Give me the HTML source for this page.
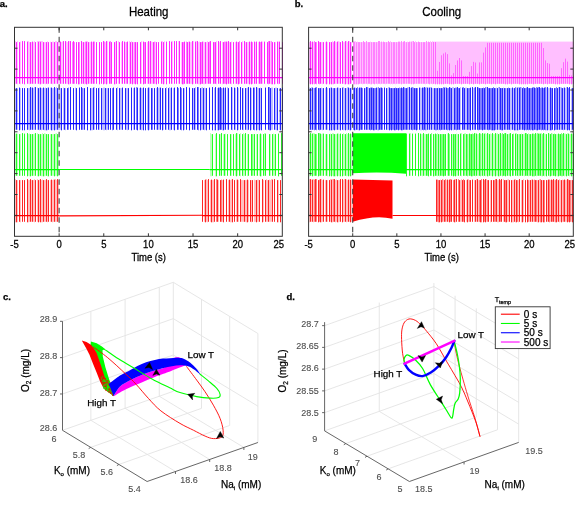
<!DOCTYPE html>
<html><head><meta charset="utf-8"><style>
html,body{margin:0;padding:0;background:#fff;width:575px;height:508px;overflow:hidden}
svg{display:block;will-change:transform}
text{font-family:"Liberation Sans", sans-serif;stroke-width:0.25px}
</style></head><body>
<svg width="575" height="508" viewBox="0 0 575 508">
<rect width="575" height="508" fill="#fff"/>
<path d="M15.5 41.1V83.8M17.5 41.1V84.3M20.5 41.6V84.3M28.5 41.1V83.8M29.5 42.1V84.3M31.5 42.1V83.8M33.5 42.1V83.8M34.5 41.1V83.8M37.5 41.1V83.8M39.5 41.1V84.3M41.5 41.1V83.8M42.5 41.1V83.8M44.5 42.1V83.8M45.5 42.1V84.3M47.5 41.1V84.3M50.5 41.6V83.8M52.5 41.6V84.3M53.5 41.6V83.8M55.5 41.1V83.8M56.5 41.1V83.8M58.5 41.1V83.8" stroke="#ffbfff" stroke-width="1" fill="none"/>
<path d="M16.5 42.1V83.8M19.5 42.1V83.8M22.5 41.1V83.8M24.5 41.1V84.3M27.5 41.6V83.8M30.5 42.1V83.8M32.5 41.6V83.8M35.5 42.1V83.8M38.5 41.6V83.8M40.5 41.6V84.3M43.5 42.1V83.8M46.5 42.1V83.8M48.5 42.1V83.8M51.5 42.1V83.8M54.5 42.1V83.8M57.5 42.1V83.8" stroke="#ff26ff" stroke-width="1" fill="none"/>
<path d="M15.5 88.1V129.8M17.5 88.1V129.8M20.5 88.1V129.8M28.5 88.1V129.8M29.5 88.1V130.3M31.5 87.6V129.8M33.5 88.1V129.8M34.5 87.1V129.8M37.5 87.6V129.8M39.5 87.6V130.3M41.5 88.1V130.3M42.5 88.1V129.8M44.5 88.1V130.3M45.5 87.6V130.3M47.5 87.6V130.3M50.5 87.6V129.8M52.5 88.1V130.3M53.5 88.1V129.8M55.5 88.1V129.8M56.5 87.1V129.8M58.5 87.6V129.8" stroke="#bfbfff" stroke-width="1" fill="none"/>
<path d="M16.5 88.1V129.8M19.5 87.6V130.3M22.5 88.1V130.3M24.5 88.1V130.3M27.5 88.1V129.8M30.5 87.1V129.8M32.5 87.6V129.8M35.5 87.1V129.8M38.5 88.1V129.8M40.5 87.6V129.8M43.5 87.6V129.8M46.5 88.1V130.3M48.5 87.6V129.8M51.5 87.6V130.3M54.5 87.1V130.3M57.5 88.1V129.8" stroke="#2626ff" stroke-width="1" fill="none"/>
<path d="M15.5 133.6V175.8M17.5 133.6V175.8M20.5 134.1V175.8M28.5 134.1V175.8M29.5 133.6V176.3M31.5 134.1V175.8M33.5 134.1V175.8M34.5 133.6V175.8M37.5 133.1V176.3M39.5 134.1V175.8M41.5 134.1V176.3M42.5 133.1V176.3M44.5 133.1V176.3M45.5 133.6V175.8M47.5 134.1V176.3M50.5 134.1V175.8M52.5 134.1V175.8M53.5 134.1V175.8M55.5 133.6V175.8M56.5 133.1V175.8M58.5 133.6V175.8" stroke="#bfffbf" stroke-width="1" fill="none"/>
<path d="M16.5 133.6V175.8M19.5 134.1V175.8M22.5 133.1V175.8M24.5 133.6V175.8M27.5 133.1V176.3M30.5 134.1V176.3M32.5 134.1V175.8M35.5 133.1V175.8M38.5 134.1V176.3M40.5 134.1V175.8M43.5 134.1V176.3M46.5 134.1V175.8M48.5 134.1V176.3M51.5 134.1V175.8M54.5 134.1V176.3M57.5 134.1V176.3" stroke="#26ff26" stroke-width="1" fill="none"/>
<path d="M15.5 179.1V222.3M17.5 180.1V222.3M20.5 180.1V222.3M28.5 180.1V222.3M29.5 180.1V221.8M31.5 180.1V221.8M33.5 180.1V221.8M34.5 179.1V222.3M37.5 179.1V221.8M39.5 179.6V221.8M41.5 180.1V222.3M42.5 179.6V222.3M44.5 180.1V221.8M45.5 180.1V221.8M47.5 180.1V222.3M50.5 180.1V221.8M52.5 180.1V222.3M53.5 179.6V221.8M55.5 179.1V221.8M56.5 180.1V221.8M58.5 180.1V221.8" stroke="#ffbfbf" stroke-width="1" fill="none"/>
<path d="M16.5 180.1V222.3M19.5 180.1V221.8M22.5 180.1V221.8M24.5 180.1V221.8M27.5 179.1V222.3M30.5 179.1V221.8M32.5 180.1V221.8M35.5 180.1V221.8M38.5 180.1V222.3M40.5 179.1V222.3M43.5 180.1V221.8M46.5 179.1V221.8M48.5 180.1V221.8M51.5 179.6V221.8M54.5 179.6V221.8M57.5 179.1V221.8" stroke="#ff2626" stroke-width="1" fill="none"/>
<path d="M59.5 41.1V83.8M61.5 42.1V83.8M62.5 41.6V83.8M66.5 41.6V83.8M67.5 42.1V83.8M69.5 41.1V84.3M82.5 42.1V83.8M84.5 42.1V84.3M87.5 41.1V84.3M89.5 42.1V83.8M90.5 42.1V83.8M92.5 42.1V83.8M105.5 42.1V83.8M107.5 41.1V83.8M115.5 41.6V84.3M118.5 41.1V83.8M121.5 42.1V83.8M125.5 42.1V83.8M129.5 41.1V84.3M131.5 41.1V83.8M133.5 42.1V83.8M136.5 42.1V83.8M141.5 41.1V83.8M147.5 42.1V83.8M149.5 41.6V84.3M151.5 41.6V83.8M152.5 42.1V83.8M155.5 41.6V83.8M162.5 41.1V83.8M164.5 41.1V83.8M172.5 41.1V83.8M178.5 41.1V83.8M181.5 42.1V83.8M188.5 41.6V83.8M190.5 42.1V83.8M191.5 42.1V83.8M193.5 41.1V83.8M196.5 41.1V83.8M198.5 42.1V84.3M199.5 41.6V84.3M203.5 41.6V84.3M204.5 42.1V84.3M206.5 42.1V83.8M207.5 41.1V83.8M216.5 41.1V84.3M219.5 42.1V83.8M222.5 42.1V84.3M227.5 41.6V83.8M229.5 42.1V83.8M231.5 41.6V84.3M235.5 42.1V83.8M237.5 42.1V84.3M242.5 41.1V83.8M245.5 42.1V83.8M247.5 42.1V83.8M248.5 42.1V83.8M250.5 42.1V83.8M255.5 42.1V83.8M258.5 42.1V83.8M262.5 41.6V83.8M270.5 41.1V83.8M275.5 42.1V83.8M278.5 41.6V84.3" stroke="#ffbfff" stroke-width="1" fill="none"/>
<path d="M72.5 42.1V83.8M74.5 42.1V83.8M79.5 42.1V84.3M85.5 41.6V83.8M94.5 41.6V83.8M104.5 41.6V83.8M110.5 41.1V83.8M126.5 42.1V83.8M134.5 42.1V83.8M144.5 42.1V83.8M154.5 41.6V83.8M183.5 42.1V84.3M186.5 41.6V83.8M201.5 42.1V83.8M209.5 41.6V83.8M214.5 42.1V83.8M224.5 41.6V83.8M225.5 41.6V83.8M239.5 41.1V83.8M252.5 42.1V83.8M260.5 42.1V83.8M268.5 41.1V84.3M271.5 41.1V84.3" stroke="#ff80ff" stroke-width="1" fill="none"/>
<path d="M60.5 41.6V83.8M63.5 41.1V83.8M65.5 41.1V83.8M68.5 41.1V84.3M70.5 41.1V83.8M73.5 41.1V83.8M76.5 42.1V83.8M78.5 42.1V84.3M81.5 41.1V83.8M83.5 42.1V83.8M86.5 41.6V84.3M88.5 42.1V83.8M91.5 41.6V83.8M93.5 41.6V83.8M96.5 42.1V83.8M99.5 42.1V84.3M101.5 42.1V83.8M103.5 41.1V84.3M106.5 41.1V84.3M109.5 41.6V83.8M111.5 42.1V83.8M114.5 42.1V84.3M116.5 41.1V83.8M119.5 42.1V83.8M122.5 41.1V83.8M124.5 41.6V83.8M127.5 41.6V83.8M130.5 42.1V83.8M132.5 42.1V84.3M135.5 42.1V84.3M137.5 42.1V84.3M140.5 42.1V83.8M143.5 41.6V84.3M145.5 42.1V83.8M148.5 41.1V83.8M150.5 41.1V83.8M153.5 42.1V83.8M156.5 42.1V84.3M158.5 42.1V83.8M161.5 41.6V83.8M163.5 42.1V84.3M166.5 41.6V84.3M169.5 41.1V83.8M171.5 41.6V83.8M174.5 41.1V83.8M176.5 41.1V83.8M179.5 41.1V83.8M182.5 42.1V84.3M184.5 41.6V83.8M187.5 42.1V83.8M189.5 41.6V83.8M192.5 41.1V84.3M195.5 41.6V83.8M197.5 41.1V83.8M200.5 42.1V84.3M202.5 41.6V83.8M205.5 42.1V83.8M208.5 42.1V83.8M210.5 41.1V83.8M213.5 42.1V83.8M215.5 42.1V83.8M218.5 41.1V83.8M220.5 41.1V83.8M223.5 42.1V83.8M226.5 41.6V84.3M228.5 41.1V83.8M230.5 42.1V83.8M233.5 42.1V83.8M236.5 41.6V83.8M238.5 42.1V84.3M241.5 42.1V83.8M244.5 41.1V83.8M246.5 42.1V83.8M249.5 41.6V84.3M251.5 41.6V84.3M254.5 41.6V83.8M256.5 41.6V83.8M259.5 41.6V83.8M261.5 41.6V83.8M264.5 41.6V83.8M267.5 42.1V83.8M269.5 41.1V83.8M272.5 42.1V84.3M274.5 42.1V84.3M277.5 41.6V83.8M279.5 41.6V83.8M282.5 42.1V83.8" stroke="#ff26ff" stroke-width="1" fill="none"/>
<path d="M59.5 88.1V129.8M60.5 88.1V129.8M63.5 87.6V129.8M65.5 88.1V130.3M75.5 87.6V129.8M83.5 88.1V129.8M91.5 88.1V130.3M92.5 88.1V130.3M94.5 87.1V129.8M99.5 87.6V129.8M102.5 88.1V129.8M103.5 87.6V130.3M104.5 87.6V130.3M106.5 88.1V130.3M107.5 88.1V129.8M117.5 87.1V130.3M120.5 88.1V129.8M121.5 88.1V129.8M126.5 88.1V129.8M127.5 88.1V130.3M133.5 88.1V129.8M139.5 88.1V129.8M141.5 88.1V130.3M142.5 88.1V129.8M147.5 88.1V129.8M149.5 87.6V129.8M156.5 88.1V129.8M158.5 88.1V129.8M159.5 87.6V129.8M163.5 88.1V129.8M166.5 87.1V129.8M169.5 87.1V130.3M170.5 88.1V130.3M173.5 88.1V129.8M184.5 88.1V129.8M193.5 88.1V129.8M195.5 87.1V129.8M201.5 87.6V129.8M202.5 87.1V129.8M204.5 87.6V130.3M205.5 88.1V129.8M214.5 88.1V130.3M217.5 88.1V130.3M222.5 88.1V130.3M224.5 88.1V129.8M227.5 87.1V129.8M232.5 87.6V130.3M235.5 88.1V129.8M238.5 88.1V129.8M243.5 88.1V130.3M246.5 88.1V129.8M247.5 87.6V130.3M251.5 88.1V129.8M257.5 87.6V129.8M258.5 88.1V129.8M260.5 87.6V129.8M271.5 87.6V129.8M272.5 87.6V129.8M275.5 87.6V129.8M276.5 87.6V130.3M279.5 88.1V129.8" stroke="#bfbfff" stroke-width="1" fill="none"/>
<path d="M68.5 87.6V129.8M82.5 88.1V129.8M112.5 88.1V130.3M136.5 87.1V129.8M152.5 88.1V129.8M178.5 88.1V129.8M181.5 88.1V130.3M198.5 87.1V130.3M219.5 87.6V129.8M221.5 88.1V129.8M254.5 87.6V130.3M269.5 87.1V130.3" stroke="#8080ff" stroke-width="1" fill="none"/>
<path d="M61.5 88.1V130.3M64.5 88.1V129.8M67.5 88.1V129.8M70.5 87.1V129.8M73.5 88.1V129.8M76.5 88.1V130.3M79.5 87.6V129.8M81.5 87.1V129.8M84.5 88.1V129.8M87.5 87.1V130.3M90.5 88.1V130.3M93.5 87.6V129.8M96.5 88.1V129.8M98.5 88.1V129.8M101.5 88.1V129.8M105.5 88.1V129.8M108.5 88.1V129.8M110.5 88.1V129.8M113.5 87.6V129.8M116.5 88.1V129.8M119.5 88.1V129.8M122.5 87.6V129.8M125.5 88.1V129.8M128.5 88.1V129.8M131.5 87.6V130.3M134.5 87.6V129.8M137.5 87.6V130.3M140.5 87.6V129.8M143.5 87.6V130.3M145.5 88.1V130.3M148.5 87.6V130.3M151.5 88.1V129.8M154.5 88.1V129.8M157.5 87.1V129.8M160.5 87.6V129.8M162.5 88.1V130.3M165.5 88.1V129.8M168.5 88.1V129.8M171.5 87.6V129.8M174.5 87.6V130.3M177.5 87.1V129.8M180.5 87.1V129.8M183.5 88.1V130.3M186.5 87.1V129.8M189.5 87.6V130.3M192.5 88.1V129.8M194.5 88.1V129.8M197.5 87.1V129.8M200.5 88.1V130.3M203.5 88.1V129.8M206.5 88.1V130.3M209.5 87.6V129.8M212.5 87.1V130.3M215.5 87.1V130.3M218.5 87.6V130.3M220.5 87.1V129.8M223.5 87.6V130.3M225.5 87.6V129.8M228.5 88.1V129.8M231.5 87.1V129.8M234.5 87.6V129.8M237.5 87.1V130.3M240.5 87.1V129.8M242.5 88.1V129.8M245.5 88.1V129.8M248.5 87.1V129.8M250.5 87.6V130.3M253.5 87.6V129.8M256.5 87.1V130.3M259.5 88.1V130.3M261.5 88.1V130.3M265.5 87.6V129.8M268.5 87.1V129.8M270.5 88.1V130.3M274.5 88.1V129.8M277.5 88.1V130.3M280.5 88.1V130.3M282.5 87.6V129.8" stroke="#2626ff" stroke-width="1" fill="none"/>
<path d="M210.5 133.1V176.3M211.5 134.1V176.3M215.5 134.1V176.3M220.5 134.1V175.8M223.5 134.1V175.8M225.5 133.6V175.8M231.5 134.1V175.8M235.5 134.1V175.8M237.5 133.1V175.8M240.5 133.1V176.3M243.5 133.1V176.3M244.5 134.1V175.8M247.5 134.1V176.3M253.5 134.1V175.8M256.5 134.1V175.8M259.5 134.1V175.8M261.5 134.1V176.3M264.5 133.1V175.8M270.5 134.1V175.8M273.5 133.6V175.8M274.5 134.1V175.8" stroke="#bfffbf" stroke-width="1" fill="none"/>
<path d="M252.5 134.1V175.8" stroke="#80ff80" stroke-width="1" fill="none"/>
<path d="M212.5 134.1V175.8M216.5 133.1V176.3M219.5 134.1V175.8M221.5 133.1V175.8M224.5 134.1V175.8M227.5 134.1V175.8M230.5 134.1V175.8M233.5 134.1V175.8M236.5 133.1V176.3M239.5 134.1V175.8M242.5 134.1V175.8M245.5 133.1V175.8M248.5 134.1V175.8M251.5 134.1V175.8M254.5 134.1V175.8M257.5 134.1V175.8M260.5 133.6V176.3M263.5 134.1V175.8M265.5 133.6V175.8M269.5 134.1V175.8M272.5 134.1V175.8M275.5 134.1V175.8M278.5 133.6V176.3M281.5 133.1V175.8" stroke="#26ff26" stroke-width="1" fill="none"/>
<path d="M204.5 180.1V221.8M206.5 179.1V221.8M207.5 180.1V222.3M210.5 180.1V221.8M212.5 180.1V222.3M213.5 180.1V222.3M218.5 180.1V221.8M222.5 180.1V221.8M228.5 180.1V221.8M230.5 180.1V222.3M231.5 179.6V222.3M236.5 179.6V221.8M238.5 180.1V221.8M241.5 180.1V221.8M242.5 180.1V221.8M243.5 180.1V221.8M245.5 180.1V221.8M246.5 180.1V222.3M248.5 180.1V221.8M251.5 180.1V222.3M254.5 179.6V221.8M255.5 180.1V221.8M257.5 179.6V221.8M258.5 179.6V221.8M263.5 180.1V221.8M266.5 179.1V221.8M267.5 180.1V221.8M269.5 179.6V221.8M270.5 180.1V221.8M271.5 179.1V221.8M278.5 180.1V222.3" stroke="#ffbfbf" stroke-width="1" fill="none"/>
<path d="M216.5 179.1V221.8M221.5 179.6V221.8" stroke="#ff8080" stroke-width="1" fill="none"/>
<path d="M202.5 180.1V221.8M205.5 179.6V222.3M208.5 179.1V221.8M211.5 179.6V222.3M214.5 179.1V221.8M217.5 179.6V221.8M220.5 180.1V221.8M223.5 179.6V222.3M226.5 179.1V221.8M229.5 179.6V221.8M232.5 179.1V222.3M234.5 180.1V221.8M237.5 179.6V221.8M240.5 179.1V221.8M244.5 180.1V221.8M247.5 179.6V222.3M250.5 180.1V221.8M252.5 180.1V221.8M256.5 180.1V222.3M259.5 180.1V221.8M262.5 179.1V222.3M265.5 180.1V221.8M268.5 180.1V221.8M272.5 179.6V221.8M274.5 179.1V221.8M277.5 180.1V222.3M280.5 180.1V222.3" stroke="#ff2626" stroke-width="1" fill="none"/>
<path d="M14.5 77.5L282.3 77.5" stroke="#ff00ff" stroke-width="1.25" fill="none"/>
<path d="M14.5 123.5L282.3 123.5" stroke="#0000ff" stroke-width="1.25" fill="none"/>
<path d="M14.5 169.5L59.13 169.5" stroke="#00ff00" stroke-width="1.25" fill="none"/>
<path d="M59.13 169.5L209.7 169.5" stroke="#00ff00" stroke-width="1.1" fill="none"/>
<path d="M209.7 169.5L282.3 169.5" stroke="#00ff00" stroke-width="1.25" fill="none"/>
<path d="M14.5 215.5L59.13 215.5" stroke="#ff0000" stroke-width="1.25" fill="none"/>
<path d="M59.13 215.9L202.1 215.2" stroke="#ff0000" stroke-width="1.1" fill="none"/>
<path d="M202.1 215.5L282.3 215.5" stroke="#ff0000" stroke-width="1.25" fill="none"/>
<rect x="14.5" y="27.3" width="267.8" height="209" fill="none" stroke="#333" stroke-width="1"/>
<path d="M14.5 48.2h3M282.3 48.2h-3M14.5 69.1h3M282.3 69.1h-3M14.5 90h3M282.3 90h-3M14.5 110.9h3M282.3 110.9h-3M14.5 131.8h3M282.3 131.8h-3M14.5 152.7h3M282.3 152.7h-3M14.5 173.6h3M282.3 173.6h-3M14.5 194.5h3M282.3 194.5h-3M14.5 215.4h3M282.3 215.4h-3M59.13 27.3v3M59.13 236.3v-3M103.77 27.3v3M103.77 236.3v-3M148.4 27.3v3M148.4 236.3v-3M193.03 27.3v3M193.03 236.3v-3M237.67 27.3v3M237.67 236.3v-3" stroke="#333" stroke-width="1" fill="none"/>
<text transform="translate(14.5,247.8) scale(1,1.12)" font-size="9.5" text-anchor="middle" stroke="#000">-5</text>
<text transform="translate(59.13,247.8) scale(1,1.12)" font-size="9.5" text-anchor="middle" stroke="#000">0</text>
<text transform="translate(103.77,247.8) scale(1,1.12)" font-size="9.5" text-anchor="middle" stroke="#000">5</text>
<text transform="translate(148.4,247.8) scale(1,1.12)" font-size="9.5" text-anchor="middle" stroke="#000">10</text>
<text transform="translate(193.03,247.8) scale(1,1.12)" font-size="9.5" text-anchor="middle" stroke="#000">15</text>
<text transform="translate(237.67,247.8) scale(1,1.12)" font-size="9.5" text-anchor="middle" stroke="#000">20</text>
<text transform="translate(278.8,247.8) scale(1,1.12)" font-size="9.5" text-anchor="middle" stroke="#000">25</text>
<text transform="translate(148.7,16) scale(1,1.12)" font-size="11.5" text-anchor="middle" stroke="#000">Heating</text>
<text transform="translate(148.7,260.8) scale(1,1.12)" font-size="9.5" text-anchor="middle" stroke="#000">Time (s)</text>
<path d="M59.13 27.3V236.3" stroke="#333" stroke-width="1.0" stroke-dasharray="5.5 4" fill="none"/>
<path d="M309.5 42.1V83.8M311.5 42.1V83.8M313.5 42.1V83.8M321.5 42.1V83.8M322.5 42.1V84.3M325.5 42.1V83.8M327.5 42.1V83.8M330.5 42.1V83.8M332.5 41.1V84.3M335.5 41.6V83.8M336.5 42.1V83.8M338.5 41.1V83.8M339.5 41.6V83.8M343.5 42.1V83.8M344.5 42.1V84.3M346.5 41.1V83.8M347.5 42.1V84.3M349.5 41.1V84.3M351.5 42.1V83.8" stroke="#ffbfff" stroke-width="1" fill="none"/>
<path d="M314.5 41.1V84.3M316.5 42.1V84.3M319.5 42.1V84.3M333.5 42.1V84.3" stroke="#ff80ff" stroke-width="1" fill="none"/>
<path d="M310.5 41.1V84.3M312.5 41.6V84.3M315.5 42.1V83.8M318.5 41.1V83.8M320.5 42.1V83.8M323.5 42.1V83.8M326.5 41.6V84.3M329.5 42.1V84.3M331.5 42.1V84.3M334.5 41.1V83.8M337.5 41.6V83.8M340.5 42.1V83.8M342.5 41.1V83.8M345.5 41.1V84.3M348.5 41.1V84.3M350.5 42.1V83.8" stroke="#ff26ff" stroke-width="1" fill="none"/>
<path d="M309.5 87.6V129.8M311.5 87.1V130.3M313.5 88.1V129.8M321.5 87.6V129.8M322.5 88.1V130.3M325.5 88.1V129.8M327.5 88.1V129.8M330.5 87.6V130.3M332.5 88.1V130.3M335.5 88.1V129.8M336.5 88.1V129.8M338.5 87.6V129.8M339.5 88.1V129.8M343.5 87.1V130.3M344.5 88.1V129.8M346.5 88.1V129.8M347.5 87.1V130.3M349.5 88.1V130.3M351.5 87.6V129.8" stroke="#bfbfff" stroke-width="1" fill="none"/>
<path d="M314.5 88.1V130.3M316.5 87.1V130.3M319.5 88.1V130.3M333.5 88.1V129.8" stroke="#8080ff" stroke-width="1" fill="none"/>
<path d="M310.5 88.1V129.8M312.5 87.6V129.8M315.5 87.6V129.8M318.5 88.1V129.8M320.5 88.1V129.8M323.5 88.1V129.8M326.5 87.1V129.8M329.5 88.1V130.3M331.5 87.6V130.3M334.5 88.1V130.3M337.5 87.6V129.8M340.5 88.1V130.3M342.5 87.6V129.8M345.5 88.1V130.3M348.5 87.6V129.8M350.5 88.1V130.3" stroke="#2626ff" stroke-width="1" fill="none"/>
<path d="M309.5 134.1V176.3M311.5 133.6V175.8M313.5 133.1V175.8M321.5 134.1V175.8M322.5 133.6V175.8M325.5 134.1V175.8M327.5 134.1V176.3M330.5 133.6V175.8M332.5 133.1V175.8M335.5 134.1V176.3M336.5 134.1V175.8M338.5 133.6V175.8M339.5 134.1V176.3M343.5 133.1V175.8M344.5 134.1V175.8M346.5 133.1V176.3M347.5 134.1V175.8M349.5 134.1V175.8M351.5 134.1V175.8" stroke="#bfffbf" stroke-width="1" fill="none"/>
<path d="M314.5 133.6V175.8M316.5 134.1V175.8M319.5 133.1V175.8M333.5 133.6V176.3" stroke="#80ff80" stroke-width="1" fill="none"/>
<path d="M310.5 133.1V175.8M312.5 133.6V176.3M315.5 134.1V175.8M318.5 133.1V176.3M320.5 133.6V175.8M323.5 133.6V175.8M326.5 134.1V175.8M329.5 134.1V176.3M331.5 134.1V176.3M334.5 134.1V176.3M337.5 133.6V176.3M340.5 133.6V176.3M342.5 134.1V176.3M345.5 134.1V175.8M348.5 133.1V176.3M350.5 133.6V176.3" stroke="#26ff26" stroke-width="1" fill="none"/>
<path d="M309.5 179.1V222.3M311.5 179.6V221.8M313.5 179.1V222.3M321.5 179.1V222.3M322.5 180.1V221.8M325.5 180.1V221.8M327.5 180.1V221.8M330.5 179.1V221.8M332.5 179.1V222.3M335.5 180.1V222.3M336.5 179.6V221.8M338.5 180.1V222.3M339.5 180.1V221.8M343.5 180.1V221.8M344.5 179.1V221.8M346.5 179.6V222.3M347.5 180.1V221.8M349.5 179.6V221.8M351.5 180.1V221.8" stroke="#ffbfbf" stroke-width="1" fill="none"/>
<path d="M314.5 179.6V221.8M316.5 179.1V221.8M319.5 179.6V221.8M333.5 179.1V221.8" stroke="#ff8080" stroke-width="1" fill="none"/>
<path d="M310.5 179.1V221.8M312.5 179.6V221.8M315.5 179.1V221.8M318.5 180.1V222.3M320.5 179.1V222.3M323.5 179.6V221.8M326.5 180.1V221.8M329.5 180.1V221.8M331.5 179.6V222.3M334.5 179.1V221.8M337.5 180.1V222.3M340.5 179.1V221.8M342.5 179.1V222.3M345.5 179.1V221.8M348.5 179.6V221.8M350.5 179.6V222.3" stroke="#ff2626" stroke-width="1" fill="none"/>
<path d="M355.5 41.1V84.3M357.5 41.6V84.3M360.5 42.1V83.8M362.5 42.1V84.3M365.5 42.1V83.8M367.5 42.1V84.3M370.5 41.6V84.3M372.5 42.1V83.8M375.5 42.1V83.8M377.5 42.1V84.3M380.5 42.1V84.3M382.5 42.1V83.8M385.5 42.1V84.3M387.5 42.1V83.8M390.5 41.1V84.3M392.5 42.1V84.3M395.5 42.1V84.3M397.5 42.1V83.8M400.5 42.1V83.8M402.5 42.1V83.8M405.5 42.1V83.8M407.5 41.6V83.8M410.5 41.6V83.8M412.5 41.1V83.8M415.5 41.1V83.8M417.5 42.1V83.8M420.5 42.1V83.8M422.5 42.1V83.8M425.5 42.1V84.3M427.5 42.1V83.8M430.5 41.1V83.8M432.5 41.1V84.3" stroke="#ffbfff" stroke-width="1" fill="none"/>
<path d="M353.5 41.6V84.3M354.5 41.6V84.3M356.5 42.1V84.3M358.5 42.1V84.3M359.5 42.1V83.8M361.5 42.1V83.8M363.5 41.1V83.8M364.5 42.1V83.8M366.5 41.1V83.8M368.5 42.1V83.8M369.5 42.1V83.8M371.5 42.1V84.3M373.5 42.1V83.8M374.5 42.1V84.3M376.5 42.1V83.8M378.5 41.1V83.8M379.5 41.1V83.8M381.5 41.6V83.8M383.5 41.6V83.8M384.5 42.1V83.8M386.5 42.1V83.8M388.5 41.1V83.8M389.5 42.1V83.8M391.5 42.1V83.8M393.5 42.1V83.8M394.5 42.1V83.8M396.5 42.1V83.8M398.5 41.6V83.8M399.5 41.6V83.8M401.5 41.1V84.3M403.5 41.6V83.8M404.5 41.1V83.8M406.5 42.1V83.8M408.5 42.1V83.8M409.5 41.6V83.8M411.5 41.6V84.3M413.5 41.1V84.3M414.5 42.1V83.8M416.5 42.1V83.8M418.5 41.6V83.8M419.5 42.1V83.8M421.5 42.1V83.8M423.5 42.1V83.8M424.5 42.1V83.8M426.5 41.1V83.8M428.5 41.6V83.8M429.5 42.1V84.3M431.5 42.1V83.8" stroke="#ff80ff" stroke-width="1" fill="none"/>
<rect x="433" y="41.6" width="141" height="42.2" fill="#ffbfff"/>
<path d="M433.5 42V83.8M435.5 42V84.3M437.5 70.77V84.3M439.5 61.97V84.3M441.5 55.27V84.3M443.5 53.49V84.3M445.5 52.45V83.8M447.5 54.1V83.8M449.5 63.4V84.3M451.5 75.4V84.3M453.5 73.12V84.3M455.5 65V83.8M457.5 60.45V83.8M459.5 58V83.8M461.5 60.4V84.3M463.5 76V83.8M465.5 76V83.8M467.5 76V83.8M469.5 71.88V84.3M471.5 66.08V83.8M473.5 61.85V84.3M475.5 62.54V83.8M477.5 73.5V83.8M479.5 62.4V84.3M481.5 62.4V83.8M483.5 52.6V83.8M485.5 47.4V84.3M487.5 42.8V83.8M489.5 42.8V83.8M491.5 42.8V84.3M493.5 42.8V83.8M495.5 42.8V84.3M497.5 42.8V83.8M499.5 42.8V83.8M501.5 42.8V83.8M503.5 42.8V83.8M505.5 42.8V84.3M507.5 42.8V84.3M509.5 42.8V83.8M511.5 42.8V84.3M513.5 42.8V83.8M515.5 42.8V83.8M517.5 42.8V83.8M519.5 42.8V84.3M521.5 42.8V84.3M523.5 42.8V84.3M525.5 42.8V84.3M527.5 42.8V84.3M529.5 42.8V83.8M531.5 42.8V83.8M533.5 42.8V84.3M535.5 42.8V83.8M537.5 42.8V83.8M539.5 42.8V83.8M541.5 42.8V83.8M543.5 48V84.3M545.5 60.4V83.8M547.5 63V84.3M549.5 63.7V83.8M551.5 76V83.8M553.5 76V83.8M555.5 76V84.3M557.5 76V84.3M559.5 76V84.3M561.5 68.2V83.8M563.5 62.18V83.8M565.5 58.62V83.8M567.5 61.6V83.8M569.5 74.93V84.3M571.5 75.47V84.3M573.5 76V83.8" stroke="#ff66ff" stroke-width="1" fill="none"/>
<path d="M355.5 87.6V130.3M358.5 88.1V130.3M365.5 88.1V129.8M368.5 87.6V129.8M377.5 87.6V130.3M387.5 88.1V129.8M388.5 87.1V129.8M408.5 87.1V129.8M410.5 88.1V129.8M420.5 87.6V130.3M421.5 88.1V130.3M426.5 87.1V130.3M428.5 87.6V129.8M430.5 87.1V129.8M432.5 88.1V129.8M433.5 88.1V129.8M438.5 87.6V130.3M445.5 87.1V129.8M452.5 87.1V129.8M453.5 87.1V130.3M460.5 87.1V130.3M465.5 87.6V129.8M466.5 87.6V129.8M473.5 88.1V129.8M486.5 87.1V129.8M496.5 87.6V129.8M498.5 87.1V129.8M503.5 87.6V129.8M506.5 88.1V129.8M510.5 88.1V130.3M511.5 88.1V129.8M513.5 88.1V129.8M516.5 87.6V130.3M518.5 87.1V130.3M521.5 87.1V129.8M546.5 87.6V130.3M548.5 88.1V129.8M549.5 88.1V130.3M558.5 87.1V129.8M560.5 87.1V129.8M563.5 87.6V130.3M565.5 88.1V129.8M566.5 87.1V129.8M571.5 88.1V130.3" stroke="#bfbfff" stroke-width="1" fill="none"/>
<path d="M353.5 88.1V129.8M357.5 87.1V129.8M360.5 87.6V129.8M362.5 88.1V129.8M367.5 87.1V129.8M370.5 87.6V130.3M372.5 87.6V129.8M374.5 88.1V130.3M375.5 88.1V129.8M378.5 87.1V130.3M380.5 87.6V129.8M382.5 88.1V129.8M390.5 88.1V129.8M392.5 88.1V129.8M393.5 88.1V129.8M395.5 87.6V130.3M397.5 88.1V129.8M399.5 87.6V129.8M400.5 88.1V129.8M402.5 88.1V130.3M404.5 87.6V129.8M405.5 88.1V129.8M407.5 87.6V129.8M412.5 87.1V130.3M413.5 87.6V129.8M415.5 88.1V129.8M417.5 88.1V129.8M423.5 87.6V130.3M425.5 87.6V130.3M435.5 88.1V130.3M436.5 88.1V130.3M440.5 88.1V130.3M442.5 88.1V129.8M443.5 87.1V129.8M447.5 88.1V130.3M448.5 88.1V129.8M450.5 87.6V129.8M455.5 87.6V129.8M456.5 87.6V130.3M458.5 88.1V129.8M463.5 87.1V129.8M468.5 88.1V129.8M469.5 88.1V129.8M474.5 87.6V129.8M478.5 87.6V130.3M480.5 88.1V129.8M481.5 88.1V129.8M483.5 87.6V129.8M485.5 87.1V129.8M488.5 88.1V130.3M490.5 88.1V129.8M491.5 88.1V130.3M493.5 87.1V130.3M495.5 88.1V129.8M499.5 87.1V129.8M501.5 88.1V130.3M505.5 88.1V129.8M508.5 87.6V129.8M515.5 87.1V130.3M520.5 87.1V129.8M523.5 87.1V129.8M525.5 88.1V129.8M526.5 87.6V130.3M528.5 88.1V130.3M530.5 88.1V130.3M531.5 88.1V129.8M533.5 87.1V130.3M535.5 88.1V129.8M536.5 87.1V130.3M538.5 87.1V129.8M540.5 88.1V129.8M541.5 87.6V130.3M543.5 88.1V130.3M545.5 87.1V130.3M551.5 88.1V130.3M555.5 88.1V129.8M556.5 87.1V129.8M561.5 87.6V129.8M568.5 88.1V129.8M573.5 88.1V129.8" stroke="#8080ff" stroke-width="1" fill="none"/>
<path d="M354.5 87.6V130.3M356.5 88.1V129.8M359.5 87.6V130.3M361.5 87.6V129.8M364.5 88.1V129.8M366.5 87.1V129.8M369.5 88.1V129.8M371.5 87.6V129.8M373.5 88.1V130.3M376.5 87.6V129.8M379.5 88.1V129.8M381.5 87.6V129.8M384.5 87.6V129.8M386.5 88.1V129.8M389.5 87.6V130.3M391.5 88.1V130.3M394.5 88.1V130.3M396.5 88.1V129.8M398.5 88.1V130.3M401.5 87.6V130.3M403.5 87.1V129.8M406.5 88.1V129.8M409.5 87.1V129.8M411.5 87.6V129.8M414.5 88.1V129.8M416.5 88.1V130.3M419.5 87.6V129.8M422.5 87.6V129.8M424.5 87.1V129.8M427.5 87.6V129.8M429.5 87.6V129.8M431.5 87.6V129.8M434.5 88.1V129.8M437.5 88.1V129.8M439.5 88.1V129.8M441.5 88.1V129.8M444.5 87.6V129.8M446.5 87.6V129.8M449.5 87.1V130.3M451.5 88.1V130.3M454.5 88.1V129.8M457.5 87.1V129.8M459.5 88.1V129.8M462.5 87.6V129.8M464.5 88.1V129.8M467.5 88.1V129.8M470.5 87.6V130.3M472.5 87.1V129.8M475.5 87.1V129.8M477.5 87.1V129.8M479.5 88.1V129.8M482.5 88.1V130.3M484.5 88.1V129.8M487.5 87.1V129.8M489.5 88.1V129.8M492.5 88.1V130.3M494.5 88.1V130.3M497.5 88.1V129.8M500.5 88.1V129.8M502.5 88.1V130.3M504.5 88.1V129.8M507.5 88.1V129.8M509.5 88.1V129.8M512.5 87.6V129.8M514.5 88.1V130.3M517.5 87.6V130.3M519.5 87.6V129.8M522.5 88.1V129.8M524.5 88.1V130.3M527.5 87.1V129.8M529.5 88.1V129.8M532.5 87.6V130.3M534.5 87.6V129.8M537.5 87.6V130.3M539.5 87.1V129.8M542.5 87.6V129.8M544.5 87.6V129.8M547.5 87.1V130.3M550.5 87.6V130.3M552.5 88.1V129.8M554.5 88.1V130.3M557.5 88.1V129.8M559.5 87.1V129.8M562.5 88.1V129.8M564.5 87.6V129.8M567.5 87.1V130.3M569.5 87.1V130.3M572.5 88.1V129.8" stroke="#2626ff" stroke-width="1" fill="none"/>
<path d="M352.72 133.2H406.1V173.8Q380 171.5 352.72 173.3Z" fill="#00ff00"/>
<path d="M410.5 133.1V175.8" stroke="#bfffbf" stroke-width="1" fill="none"/>
<path d="M406.5 133.6V176.3M409.5 133.6V175.8M412.5 133.6V175.8M415.5 133.6V175.8M418.5 133.1V176.3" stroke="#26ff26" stroke-width="1" fill="none"/>
<path d="M421.5 134.1V175.8M422.5 134.1V176.3M424.5 134.1V175.8M425.5 134.1V175.8M434.5 134.1V176.3M437.5 133.1V176.3M439.5 134.1V176.3M447.5 133.6V175.8M452.5 134.1V175.8M456.5 133.6V175.8M457.5 134.1V175.8M461.5 133.1V176.3M465.5 133.1V175.8M468.5 134.1V175.8M475.5 133.1V176.3M477.5 134.1V175.8M478.5 134.1V175.8M481.5 134.1V175.8M483.5 133.6V176.3M485.5 133.1V176.3M486.5 134.1V175.8M488.5 133.6V176.3M490.5 133.6V175.8M491.5 134.1V175.8M493.5 134.1V175.8M494.5 134.1V175.8M496.5 133.6V175.8M497.5 133.1V175.8M499.5 133.6V176.3M501.5 134.1V175.8M506.5 133.6V175.8M508.5 134.1V175.8M516.5 133.1V175.8M518.5 134.1V176.3M521.5 133.6V175.8M523.5 134.1V175.8M524.5 133.6V176.3M528.5 133.1V176.3M531.5 134.1V175.8M536.5 133.6V176.3M541.5 133.1V176.3M544.5 133.6V176.3M545.5 134.1V175.8M549.5 133.6V176.3M552.5 133.6V175.8M556.5 134.1V175.8M557.5 134.1V176.3M564.5 133.6V176.3M565.5 133.6V175.8M567.5 133.1V175.8M569.5 134.1V176.3M570.5 134.1V175.8M572.5 134.1V176.3" stroke="#bfffbf" stroke-width="1" fill="none"/>
<path d="M427.5 134.1V175.8M431.5 133.1V175.8M436.5 134.1V175.8M441.5 134.1V175.8M442.5 134.1V175.8M444.5 134.1V175.8M449.5 134.1V175.8M454.5 134.1V175.8M464.5 133.6V175.8M467.5 134.1V176.3M470.5 134.1V175.8M472.5 133.6V176.3M473.5 134.1V175.8M480.5 133.6V176.3M502.5 133.1V176.3M504.5 133.1V175.8M509.5 133.6V175.8M513.5 133.6V175.8M519.5 134.1V175.8M526.5 133.1V175.8M529.5 134.1V175.8M533.5 133.6V176.3M534.5 134.1V176.3M537.5 133.1V175.8M539.5 133.6V175.8M542.5 134.1V176.3M551.5 133.1V175.8M554.5 133.6V175.8M559.5 134.1V175.8M561.5 133.1V176.3M562.5 134.1V176.3" stroke="#80ff80" stroke-width="1" fill="none"/>
<path d="M420.5 133.6V175.8M423.5 133.1V175.8M426.5 134.1V175.8M428.5 133.6V176.3M430.5 134.1V175.8M433.5 134.1V176.3M435.5 133.6V175.8M438.5 134.1V175.8M440.5 134.1V175.8M443.5 134.1V176.3M445.5 134.1V175.8M448.5 133.1V175.8M451.5 134.1V175.8M453.5 134.1V176.3M455.5 134.1V176.3M458.5 134.1V175.8M460.5 133.6V175.8M463.5 134.1V175.8M466.5 134.1V175.8M469.5 133.6V175.8M471.5 134.1V176.3M474.5 133.1V175.8M476.5 133.6V175.8M479.5 133.1V175.8M482.5 133.1V175.8M484.5 133.6V175.8M487.5 133.1V176.3M489.5 134.1V175.8M492.5 133.1V176.3M495.5 133.1V176.3M498.5 134.1V176.3M500.5 133.1V175.8M503.5 134.1V175.8M505.5 133.1V176.3M507.5 134.1V175.8M510.5 133.1V176.3M512.5 134.1V175.8M515.5 133.6V175.8M517.5 134.1V175.8M520.5 134.1V175.8M522.5 134.1V175.8M525.5 133.1V175.8M527.5 134.1V175.8M530.5 134.1V175.8M532.5 133.6V176.3M535.5 133.1V175.8M538.5 133.6V175.8M540.5 133.6V175.8M543.5 133.1V175.8M546.5 134.1V176.3M548.5 133.1V175.8M550.5 134.1V176.3M553.5 134.1V175.8M555.5 134.1V176.3M558.5 133.6V176.3M560.5 134.1V175.8M563.5 133.1V175.8M566.5 134.1V176.3M568.5 133.6V175.8M571.5 133.6V176.3M573.5 133.6V175.8" stroke="#26ff26" stroke-width="1" fill="none"/>
<path d="M352.72 179.5L392.5 180.5L392.5 218.7Q375 214.5 352.72 221.8Z" fill="#ff0000"/>
<path d="M440.5 179.6V221.8M443.5 179.6V221.8M446.5 180.1V221.8M448.5 180.1V221.8M455.5 179.1V222.3M460.5 180.1V221.8M461.5 179.1V221.8M466.5 180.1V221.8M468.5 179.1V221.8M474.5 180.1V221.8M476.5 179.1V221.8M478.5 180.1V221.8M486.5 179.1V221.8M490.5 180.1V222.3M497.5 180.1V222.3M498.5 180.1V222.3M503.5 179.1V221.8M507.5 179.6V221.8M508.5 179.1V221.8M512.5 180.1V222.3M513.5 180.1V222.3M515.5 179.1V222.3M518.5 180.1V222.3M521.5 180.1V222.3M523.5 179.1V221.8M529.5 180.1V221.8M531.5 179.6V221.8M533.5 180.1V221.8M537.5 180.1V222.3M539.5 179.1V221.8M542.5 180.1V221.8M547.5 180.1V221.8M550.5 180.1V221.8M554.5 180.1V221.8M557.5 179.6V221.8M559.5 179.1V222.3M560.5 180.1V221.8M562.5 179.6V221.8M565.5 180.1V221.8M566.5 180.1V221.8M571.5 180.1V221.8M573.5 180.1V221.8" stroke="#ffbfbf" stroke-width="1" fill="none"/>
<path d="M437.5 179.6V221.8M438.5 180.1V222.3M442.5 179.1V221.8M445.5 179.1V221.8M450.5 179.1V221.8M453.5 180.1V221.8M458.5 179.1V221.8M463.5 179.1V221.8M469.5 180.1V221.8M479.5 180.1V221.8M481.5 179.1V222.3M484.5 180.1V221.8M487.5 180.1V221.8M494.5 180.1V221.8M495.5 179.1V221.8M500.5 180.1V221.8M505.5 180.1V222.3M517.5 180.1V221.8M528.5 180.1V221.8M534.5 179.6V221.8M536.5 180.1V221.8M540.5 179.1V222.3M544.5 180.1V222.3M549.5 179.6V222.3M552.5 180.1V221.8M555.5 180.1V222.3M563.5 180.1V221.8M568.5 179.6V221.8M570.5 180.1V221.8" stroke="#ff8080" stroke-width="1" fill="none"/>
<path d="M436.5 179.6V221.8M439.5 180.1V222.3M441.5 180.1V222.3M444.5 180.1V221.8M447.5 179.6V221.8M449.5 179.6V222.3M451.5 179.6V221.8M454.5 179.6V222.3M456.5 179.1V221.8M459.5 180.1V221.8M462.5 180.1V221.8M464.5 180.1V222.3M467.5 179.6V222.3M470.5 180.1V221.8M472.5 179.6V221.8M475.5 180.1V221.8M477.5 179.1V221.8M480.5 180.1V222.3M483.5 179.1V222.3M485.5 179.1V222.3M488.5 180.1V221.8M491.5 180.1V221.8M493.5 180.1V221.8M496.5 179.1V221.8M499.5 179.1V221.8M501.5 179.1V221.8M504.5 180.1V221.8M506.5 180.1V222.3M509.5 180.1V221.8M511.5 180.1V222.3M514.5 179.6V221.8M516.5 180.1V222.3M519.5 179.1V221.8M522.5 180.1V222.3M525.5 180.1V222.3M527.5 179.6V222.3M530.5 180.1V221.8M532.5 179.6V221.8M535.5 180.1V221.8M538.5 180.1V222.3M541.5 180.1V222.3M543.5 180.1V222.3M546.5 180.1V221.8M548.5 179.6V221.8M551.5 179.6V221.8M553.5 179.1V221.8M556.5 179.1V222.3M558.5 180.1V221.8M561.5 180.1V222.3M564.5 179.6V221.8M567.5 179.1V222.3M569.5 180.1V222.3M572.5 180.1V222.3" stroke="#ff2626" stroke-width="1" fill="none"/>
<path d="M308.6 77.5L573.3 77.5" stroke="#ff00ff" stroke-width="1.25" fill="none"/>
<path d="M308.6 123.5L573.3 123.5" stroke="#0000ff" stroke-width="1.25" fill="none"/>
<path d="M308.6 169.5L573.3 169.5" stroke="#00ff00" stroke-width="1.25" fill="none"/>
<path d="M308.6 215.5L352.72 215.5" stroke="#ff0000" stroke-width="1.25" fill="none"/>
<path d="M392.5 215.5L436.2 215.5" stroke="#ff0000" stroke-width="1.1" fill="none"/>
<path d="M436.2 215.5L573.3 215.5" stroke="#ff0000" stroke-width="1.25" fill="none"/>
<rect x="308.6" y="27.3" width="264.7" height="209" fill="none" stroke="#333" stroke-width="1"/>
<path d="M308.6 48.2h3M573.3 48.2h-3M308.6 69.1h3M573.3 69.1h-3M308.6 90h3M573.3 90h-3M308.6 110.9h3M573.3 110.9h-3M308.6 131.8h3M573.3 131.8h-3M308.6 152.7h3M573.3 152.7h-3M308.6 173.6h3M573.3 173.6h-3M308.6 194.5h3M573.3 194.5h-3M308.6 215.4h3M573.3 215.4h-3M352.72 27.3v3M352.72 236.3v-3M396.83 27.3v3M396.83 236.3v-3M440.95 27.3v3M440.95 236.3v-3M485.07 27.3v3M485.07 236.3v-3M529.18 27.3v3M529.18 236.3v-3" stroke="#333" stroke-width="1" fill="none"/>
<text transform="translate(308.6,247.8) scale(1,1.12)" font-size="9.5" text-anchor="middle" stroke="#000">-5</text>
<text transform="translate(352.72,247.8) scale(1,1.12)" font-size="9.5" text-anchor="middle" stroke="#000">0</text>
<text transform="translate(396.83,247.8) scale(1,1.12)" font-size="9.5" text-anchor="middle" stroke="#000">5</text>
<text transform="translate(440.95,247.8) scale(1,1.12)" font-size="9.5" text-anchor="middle" stroke="#000">10</text>
<text transform="translate(485.07,247.8) scale(1,1.12)" font-size="9.5" text-anchor="middle" stroke="#000">15</text>
<text transform="translate(529.18,247.8) scale(1,1.12)" font-size="9.5" text-anchor="middle" stroke="#000">20</text>
<text transform="translate(569.8,247.8) scale(1,1.12)" font-size="9.5" text-anchor="middle" stroke="#000">25</text>
<text transform="translate(441.7,16) scale(1,1.12)" font-size="11.5" text-anchor="middle" stroke="#000">Cooling</text>
<text transform="translate(441.7,260.8) scale(1,1.12)" font-size="9.5" text-anchor="middle" stroke="#000">Time (s)</text>
<path d="M352.72 27.3V236.3" stroke="#333" stroke-width="1.0" stroke-dasharray="5.5 4" fill="none"/>
<path d="M90.88 420.31L90.88 311.31M125.08 408.27L125.08 299.27M159.28 396.24L159.28 287.24M173.3 391.3L173.3 282.3M62.5 393.97L173.3 354.97M62.5 357.63L173.3 318.63M62.5 321.3L173.3 282.3M201.5 408.37L201.5 299.37M229.7 425.43L229.7 316.43M257.9 442.5L257.9 333.5M173.3 354.97L257.9 406.17M173.3 318.63L257.9 369.83M173.3 282.3L257.9 333.5M90.88 420.31L175.48 471.51M125.08 408.27L209.68 459.47M159.28 396.24L243.88 447.44M90.7 447.37L201.5 408.37M118.9 464.43L229.7 425.43M62.5 430.3L173.3 391.3" stroke="#e3e3e3" stroke-width="0.9" fill="none"/>
<path d="M62.5 321.3L62.5 430.3L147.1 481.5L257.9 442.5M62.5 393.97h-2.5M62.5 357.63h-2.5M62.5 321.3h-2.5M90.7 447.37l-2 1.2M118.9 464.43l-2 1.2M175.48 471.51l0 2.5M209.68 459.47l0 2.5M243.88 447.44l0 2.5" stroke="#555" stroke-width="0.9" fill="none"/>
<text x="57.4" y="322" font-size="9" text-anchor="end" fill="#4d4d4d" stroke="#4d4d4d" font-weight="normal" style="stroke-width:0.1px">28.9</text>
<text x="57.4" y="359" font-size="9" text-anchor="end" fill="#4d4d4d" stroke="#4d4d4d" font-weight="normal" style="stroke-width:0.1px">28.8</text>
<text x="57.4" y="395.6" font-size="9" text-anchor="end" fill="#4d4d4d" stroke="#4d4d4d" font-weight="normal" style="stroke-width:0.1px">28.7</text>
<text x="57.4" y="431.4" font-size="9" text-anchor="end" fill="#4d4d4d" stroke="#4d4d4d" font-weight="normal" style="stroke-width:0.1px">28.6</text>
<text x="53.9" y="441.7" font-size="9" text-anchor="middle" fill="#4d4d4d" stroke="#4d4d4d" font-weight="normal" style="stroke-width:0.1px">6</text>
<text x="79.1" y="458.3" font-size="9" text-anchor="middle" fill="#4d4d4d" stroke="#4d4d4d" font-weight="normal" style="stroke-width:0.1px">5.8</text>
<text x="106.8" y="475.2" font-size="9" text-anchor="middle" fill="#4d4d4d" stroke="#4d4d4d" font-weight="normal" style="stroke-width:0.1px">5.6</text>
<text x="134.5" y="491.6" font-size="9" text-anchor="middle" fill="#4d4d4d" stroke="#4d4d4d" font-weight="normal" style="stroke-width:0.1px">5.4</text>
<text x="188.9" y="483.3" font-size="9" text-anchor="middle" fill="#4d4d4d" stroke="#4d4d4d" font-weight="normal" style="stroke-width:0.1px">18.6</text>
<text x="222.9" y="471.1" font-size="9" text-anchor="middle" fill="#4d4d4d" stroke="#4d4d4d" font-weight="normal" style="stroke-width:0.1px">18.8</text>
<text x="252.8" y="459.7" font-size="9" text-anchor="middle" fill="#4d4d4d" stroke="#4d4d4d" font-weight="normal" style="stroke-width:0.1px">19</text>
<text x="3" y="299.8" font-size="9.5" text-anchor="start" fill="#000" stroke="#000" font-weight="bold" >c.</text>
<path d="M379.25 411.35L379.25 302.6M433.9 391.8L433.9 283.05M324.6 412.63L433.9 373.53M324.6 390.88L433.9 351.78M324.6 369.13L433.9 330.03M324.6 347.38L433.9 308.28M324.6 325.63L433.9 286.53M455.1 404.45L455.1 295.7M476.3 417.1L476.3 308.35M497.5 429.75L497.5 321M518.7 442.4L518.7 333.65M433.9 373.53L518.7 424.13M433.9 351.78L518.7 402.38M433.9 330.03L518.7 380.63M433.9 308.28L518.7 358.88M433.9 286.53L518.7 337.13M379.25 411.35L464.05 461.95M345.8 443.55L455.1 404.45M367 456.2L476.3 417.1M388.2 468.85L497.5 429.75M324.6 430.9L433.9 391.8" stroke="#e3e3e3" stroke-width="0.9" fill="none"/>
<path d="M324.6 322.15L324.6 430.9L409.4 481.5L518.7 442.4M324.6 412.63h-2.5M324.6 390.88h-2.5M324.6 369.13h-2.5M324.6 347.38h-2.5M324.6 325.63h-2.5M345.8 443.55l-2 1.2M367 456.2l-2 1.2M388.2 468.85l-2 1.2M464.05 461.95l0 2.5" stroke="#555" stroke-width="0.9" fill="none"/>
<text x="318.8" y="326.7" font-size="9" text-anchor="end" fill="#4d4d4d" stroke="#4d4d4d" font-weight="normal" style="stroke-width:0.1px">28.7</text>
<text x="318.8" y="348.8" font-size="9" text-anchor="end" fill="#4d4d4d" stroke="#4d4d4d" font-weight="normal" style="stroke-width:0.1px">28.65</text>
<text x="318.8" y="371.3" font-size="9" text-anchor="end" fill="#4d4d4d" stroke="#4d4d4d" font-weight="normal" style="stroke-width:0.1px">28.6</text>
<text x="318.8" y="393.7" font-size="9" text-anchor="end" fill="#4d4d4d" stroke="#4d4d4d" font-weight="normal" style="stroke-width:0.1px">28.55</text>
<text x="318.8" y="416.3" font-size="9" text-anchor="end" fill="#4d4d4d" stroke="#4d4d4d" font-weight="normal" style="stroke-width:0.1px">28.5</text>
<text x="314.8" y="441.7" font-size="9" text-anchor="middle" fill="#4d4d4d" stroke="#4d4d4d" font-weight="normal" style="stroke-width:0.1px">9</text>
<text x="335.9" y="454.6" font-size="9" text-anchor="middle" fill="#4d4d4d" stroke="#4d4d4d" font-weight="normal" style="stroke-width:0.1px">8</text>
<text x="357.6" y="466.4" font-size="9" text-anchor="middle" fill="#4d4d4d" stroke="#4d4d4d" font-weight="normal" style="stroke-width:0.1px">7</text>
<text x="379" y="479.5" font-size="9" text-anchor="middle" fill="#4d4d4d" stroke="#4d4d4d" font-weight="normal" style="stroke-width:0.1px">6</text>
<text x="400.1" y="491.6" font-size="9" text-anchor="middle" fill="#4d4d4d" stroke="#4d4d4d" font-weight="normal" style="stroke-width:0.1px">5</text>
<text x="423.7" y="492" font-size="9" text-anchor="middle" fill="#4d4d4d" stroke="#4d4d4d" font-weight="normal" style="stroke-width:0.1px">18.5</text>
<text x="474.6" y="473.7" font-size="9" text-anchor="middle" fill="#4d4d4d" stroke="#4d4d4d" font-weight="normal" style="stroke-width:0.1px">19</text>
<text x="533.9" y="453.9" font-size="9" text-anchor="middle" fill="#4d4d4d" stroke="#4d4d4d" font-weight="normal" style="stroke-width:0.1px">19.5</text>
<text x="286.5" y="299.8" font-size="9.5" text-anchor="start" fill="#000" stroke="#000" font-weight="bold" >d.</text>
<text transform="translate(25.5,370.5) rotate(-90)" font-size="10" stroke="#000" text-anchor="middle" dy="3.5">O<tspan font-size="6.5" dy="2">2</tspan><tspan dy="-2"> (mg/L)</tspan></text>
<text transform="translate(282.7,371) rotate(-90)" font-size="10" stroke="#000" text-anchor="middle" dy="3.5">O<tspan font-size="6.5" dy="2">2</tspan><tspan dy="-2"> (mg/L)</tspan></text>
<text x="53.9" y="474" font-size="10" stroke="#000">K<tspan font-size="6" dy="2.3">o</tspan><tspan dy="-2.3"> (mM)</tspan></text>
<text x="221" y="487.5" font-size="10" stroke="#000">Na<tspan font-size="6" dy="2.3">i</tspan><tspan dy="-2.3"> (mM)</tspan></text>
<text x="319.8" y="473.5" font-size="10" stroke="#000">K<tspan font-size="6" dy="2.3">o</tspan><tspan dy="-2.3"> (mM)</tspan></text>
<text x="484.6" y="487.5" font-size="10" stroke="#000">Na<tspan font-size="6" dy="2.3">i</tspan><tspan dy="-2.3"> (mM)</tspan></text>
<path d="M90.9 341.5 L96.7 343.3 L101.9 346.6 L105 349 L102.5 350.2 L102.8 356.6 L105.4 367.2 L108.1 376.1 L111.6 386.7 L114.2 396 L104.5 389 L96 362 L90.5 346 Z" fill="#00ff00" />
<path d="M81.8 340.6 L86.5 341.9 L91.3 345.1 L94.5 349.5 L96.6 353 L101 365.4 L105.4 379.6 L108.3 386.5 L110.5 391.2 L103.7 388.5 L100.1 381.4 L96.6 372.5 L93 363.7 L89.5 354.8 L85.9 347.7 Z" fill="#ff0000" />
<path d="M100.5 376 L109.6 383.4 L113.8 396.2 L103.5 388.6 Z" fill="#00ff00" />
<rect x="110.37" y="388.13" width="1" height="1" fill="#cc2200"/>
<rect x="104.97" y="382.33" width="1" height="1" fill="#ff0000"/>
<rect x="108.48" y="387.87" width="1" height="1" fill="#cc2200"/>
<rect x="108.69" y="387.46" width="1" height="1" fill="#55aa00"/>
<rect x="100.44" y="375.79" width="1" height="1" fill="#dd1100"/>
<rect x="109.61" y="388.47" width="1" height="1" fill="#dd1100"/>
<rect x="105.03" y="389.44" width="1" height="1" fill="#cc2200"/>
<rect x="105.73" y="390.07" width="1" height="1" fill="#ff0000"/>
<rect x="104.02" y="379.62" width="1" height="1" fill="#55aa00"/>
<rect x="111.47" y="391.56" width="1" height="1" fill="#dd1100"/>
<rect x="107.72" y="388.72" width="1" height="1" fill="#cc2200"/>
<rect x="103.06" y="377.28" width="1" height="1" fill="#cc2200"/>
<rect x="104.69" y="378.82" width="1" height="1" fill="#ff0000"/>
<rect x="111.71" y="393.68" width="1" height="1" fill="#cc2200"/>
<rect x="103.49" y="383.12" width="1" height="1" fill="#ff0000"/>
<rect x="102.64" y="379.38" width="1" height="1" fill="#cc2200"/>
<rect x="110.18" y="392.56" width="1" height="1" fill="#cc2200"/>
<rect x="108.48" y="384.94" width="1" height="1" fill="#ff0000"/>
<rect x="101.93" y="380.11" width="1" height="1" fill="#55aa00"/>
<rect x="103.23" y="384.38" width="1" height="1" fill="#cc2200"/>
<rect x="109.92" y="386.76" width="1" height="1" fill="#55aa00"/>
<rect x="106.85" y="380.29" width="1" height="1" fill="#cc2200"/>
<rect x="106.65" y="381.83" width="1" height="1" fill="#ff0000"/>
<rect x="105.84" y="381.86" width="1" height="1" fill="#cc2200"/>
<rect x="106.15" y="380.65" width="1" height="1" fill="#ff0000"/>
<rect x="108.29" y="391.73" width="1" height="1" fill="#ff0000"/>
<rect x="108.51" y="389.24" width="1" height="1" fill="#ff0000"/>
<rect x="107.02" y="380.18" width="1" height="1" fill="#55aa00"/>
<rect x="104.6" y="383.25" width="1" height="1" fill="#dd1100"/>
<rect x="109.87" y="392.65" width="1" height="1" fill="#dd1100"/>
<rect x="108.69" y="388.52" width="1" height="1" fill="#cc2200"/>
<rect x="103.76" y="381.78" width="1" height="1" fill="#cc2200"/>
<rect x="106.18" y="385.73" width="1" height="1" fill="#55aa00"/>
<rect x="106.09" y="381.7" width="1" height="1" fill="#55aa00"/>
<rect x="101.99" y="383.76" width="1" height="1" fill="#ff0000"/>
<rect x="107.46" y="390.9" width="1" height="1" fill="#cc2200"/>
<rect x="108.01" y="380.66" width="1" height="1" fill="#55aa00"/>
<rect x="106.15" y="386.46" width="1" height="1" fill="#55aa00"/>
<rect x="101.43" y="380.31" width="1" height="1" fill="#ff0000"/>
<rect x="103.33" y="383.82" width="1" height="1" fill="#cc2200"/>
<rect x="107.48" y="379.96" width="1" height="1" fill="#cc2200"/>
<rect x="100.96" y="375.85" width="1" height="1" fill="#dd1100"/>
<rect x="101.95" y="378.27" width="1" height="1" fill="#ff0000"/>
<rect x="110.8" y="388.57" width="1" height="1" fill="#ff0000"/>
<rect x="105.75" y="385.49" width="1" height="1" fill="#dd1100"/>
<rect x="112.08" y="394.75" width="1" height="1" fill="#cc2200"/>
<rect x="105.6" y="387.34" width="1" height="1" fill="#dd1100"/>
<rect x="102.81" y="382.83" width="1" height="1" fill="#dd1100"/>
<rect x="109.88" y="387.99" width="1" height="1" fill="#55aa00"/>
<rect x="102.47" y="382.06" width="1" height="1" fill="#ff0000"/>
<rect x="105.73" y="382.3" width="1" height="1" fill="#cc2200"/>
<rect x="106.02" y="381.99" width="1" height="1" fill="#cc2200"/>
<rect x="105.11" y="378.18" width="1" height="1" fill="#cc2200"/>
<rect x="104.82" y="385.39" width="1" height="1" fill="#dd1100"/>
<rect x="101.29" y="379.95" width="1" height="1" fill="#cc2200"/>
<rect x="108.12" y="388.43" width="1" height="1" fill="#55aa00"/>
<rect x="107.58" y="382.61" width="1" height="1" fill="#55aa00"/>
<rect x="109.2" y="389.03" width="1" height="1" fill="#cc2200"/>
<rect x="108.31" y="381.34" width="1" height="1" fill="#cc2200"/>
<rect x="108.38" y="389.6" width="1" height="1" fill="#cc2200"/>
<rect x="108.82" y="390.84" width="1" height="1" fill="#ff0000"/>
<rect x="102.28" y="375.8" width="1" height="1" fill="#55aa00"/>
<rect x="100.48" y="375.59" width="1" height="1" fill="#cc2200"/>
<rect x="101.93" y="378.99" width="1" height="1" fill="#cc2200"/>
<rect x="112.58" y="394.9" width="1" height="1" fill="#cc2200"/>
<rect x="104.39" y="381.34" width="1" height="1" fill="#55aa00"/>
<rect x="103.22" y="376.77" width="1" height="1" fill="#ff0000"/>
<rect x="110.58" y="390.08" width="1" height="1" fill="#dd1100"/>
<rect x="110.77" y="390.53" width="1" height="1" fill="#55aa00"/>
<rect x="109.41" y="391.58" width="1" height="1" fill="#cc2200"/>
<rect x="106.11" y="384.21" width="1" height="1" fill="#ff0000"/>
<rect x="102.87" y="380.67" width="1" height="1" fill="#55aa00"/>
<rect x="106.81" y="382.14" width="1" height="1" fill="#ff0000"/>
<rect x="102.59" y="381.32" width="1" height="1" fill="#55aa00"/>
<rect x="102.36" y="381.72" width="1" height="1" fill="#dd1100"/>
<rect x="101.34" y="376.74" width="1" height="1" fill="#55aa00"/>
<rect x="110.3" y="392.04" width="1" height="1" fill="#dd1100"/>
<rect x="105.05" y="385.96" width="1" height="1" fill="#dd1100"/>
<rect x="100.75" y="376.48" width="1" height="1" fill="#cc2200"/>
<rect x="102.27" y="377.89" width="1" height="1" fill="#dd1100"/>
<rect x="109.1" y="385.03" width="1" height="1" fill="#dd1100"/>
<rect x="106.27" y="380.55" width="1" height="1" fill="#cc2200"/>
<rect x="109.37" y="386.2" width="1" height="1" fill="#dd1100"/>
<rect x="105.88" y="388.24" width="1" height="1" fill="#dd1100"/>
<rect x="104.27" y="385.9" width="1" height="1" fill="#cc2200"/>
<rect x="101.39" y="377.63" width="1" height="1" fill="#ff0000"/>
<rect x="107.95" y="383.63" width="1" height="1" fill="#cc2200"/>
<rect x="105.46" y="382.26" width="1" height="1" fill="#ff0000"/>
<rect x="112.7" y="394.3" width="1" height="1" fill="#55aa00"/>
<rect x="107.96" y="381.27" width="1" height="1" fill="#55aa00"/>
<rect x="105" y="379.54" width="1" height="1" fill="#cc2200"/>
<rect x="110.9" y="389.41" width="1" height="1" fill="#dd1100"/>
<rect x="102.69" y="381.86" width="1" height="1" fill="#dd1100"/>
<rect x="108.15" y="383.39" width="1" height="1" fill="#dd1100"/>
<rect x="110.07" y="391.76" width="1" height="1" fill="#dd1100"/>
<rect x="106.56" y="382.02" width="1" height="1" fill="#55aa00"/>
<rect x="107.05" y="382.23" width="1" height="1" fill="#ff0000"/>
<rect x="111.37" y="393.08" width="1" height="1" fill="#cc2200"/>
<rect x="111.22" y="390.09" width="1" height="1" fill="#dd1100"/>
<rect x="102.99" y="377.51" width="1" height="1" fill="#dd1100"/>
<rect x="111.91" y="393.56" width="1" height="1" fill="#ff0000"/>
<rect x="102.68" y="376.91" width="1" height="1" fill="#ff0000"/>
<rect x="103.86" y="385.03" width="1" height="1" fill="#55aa00"/>
<rect x="103.84" y="388.15" width="1" height="1" fill="#55aa00"/>
<rect x="103.96" y="382.4" width="1" height="1" fill="#dd1100"/>
<rect x="109.85" y="382.55" width="1" height="1" fill="#ff0000"/>
<rect x="107.46" y="384.73" width="1" height="1" fill="#55aa00"/>
<rect x="103.57" y="385.8" width="1" height="1" fill="#dd1100"/>
<path d="M113.6 395.9C114.67 394.33 117.48 388.97 120 386.5C122.52 384.03 125.8 382.73 128.7 381.1C131.6 379.47 134.5 378.02 137.4 376.7C140.3 375.38 143.2 374.25 146.1 373.2C149 372.15 151.9 371.28 154.8 370.4C157.7 369.52 161.13 368.97 163.5 367.9C165.87 366.83 167.42 365.57 169 364C170.58 362.43 171.5 359.63 173 358.5C174.5 357.37 176.17 357.03 178 357.2C179.83 357.37 182.17 358.28 184 359.5C185.83 360.72 188.17 363.67 189 364.5L189 364.5C188.2 364.72 186.28 365.08 184.2 365.8C182.12 366.52 178.87 367.87 176.5 368.8C174.13 369.73 172.17 370.58 170 371.4C167.83 372.22 166.03 372.78 163.5 373.7C160.97 374.62 157.7 375.78 154.8 376.9C151.9 378.02 149 379.18 146.1 380.4C143.2 381.62 140.3 382.93 137.4 384.2C134.5 385.47 131.6 386.63 128.7 388C125.8 389.37 122.52 391.02 120 392.4C117.48 393.78 114.67 395.65 113.6 396.3Z" fill="#ff00ff" />
<path d="M108.8 383.9C110.67 382.52 116.68 377.75 120 375.6C123.32 373.45 125.8 372.6 128.7 371C131.6 369.4 134.5 367.47 137.4 366C140.3 364.53 143.2 363.22 146.1 362.2C149 361.18 151.98 360.5 154.8 359.9C157.62 359.3 160.47 358.88 163 358.6C165.53 358.32 167.67 358.33 170 358.2C172.33 358.07 174.83 357.73 177 357.8C179.17 357.87 180.83 357.8 183 358.6C185.17 359.4 187.83 361 190 362.6C192.17 364.2 194.17 366.13 196 368.2C197.83 370.27 200.17 373.87 201 375L201 375C199.83 374.08 196.17 370.95 194 369.5C191.83 368.05 190.27 367 188 366.3C185.73 365.6 183.07 365.32 180.4 365.3C177.73 365.28 174.82 365.77 172 366.2C169.18 366.63 166.37 367.2 163.5 367.9C160.63 368.6 157.7 369.52 154.8 370.4C151.9 371.28 149 372.15 146.1 373.2C143.2 374.25 140.3 375.38 137.4 376.7C134.5 378.02 131.6 379.47 128.7 381.1C125.8 382.73 122.52 384.03 120 386.5C117.48 388.97 114.67 394.33 113.6 395.9Z" fill="#0000ff" />
<path d="M93.5 347.1C95.87 348.87 102.38 353.27 107.7 357.7C113.02 362.13 120.67 369.27 125.4 373.7C130.13 378.13 132.25 380.17 136.1 384.3C139.95 388.43 144.37 394.07 148.5 398.5C152.63 402.93 155.65 406.75 160.9 410.9C166.15 415.05 174.58 420.18 180 423.4C185.42 426.62 189.22 428.08 193.4 430.2C197.58 432.32 201.77 434.7 205.1 436.1C208.43 437.5 210.62 438.47 213.4 438.6C216.18 438.73 220.18 438.3 221.8 436.9C223.42 435.5 223.38 433.27 223.1 430.2C222.82 427.13 221.72 422.67 220.1 418.5C218.48 414.33 215.9 409.65 213.4 405.2C210.9 400.75 207.88 395.98 205.1 391.8C202.32 387.62 199.77 384.28 196.7 380.1C193.63 375.92 188.37 368.93 186.7 366.7" stroke="#ff0000" stroke-width="0.9" fill="none" stroke-linejoin="round" stroke-linecap="round" />
<path d="M97.1 345.3C98.75 346.25 103.75 348.93 107 351C110.25 353.07 112.05 354.82 116.6 357.7C121.15 360.58 128.4 364.75 134.3 368.3C140.2 371.85 146.1 375.75 152 379C157.9 382.25 165.03 385.53 169.7 387.8C174.37 390.07 175.5 391.13 180 392.6C184.5 394.07 191.68 395.68 196.7 396.6C201.72 397.52 206.47 397.93 210.1 398.1C213.73 398.27 216.83 398.23 218.5 397.6C220.17 396.97 220.38 395.83 220.1 394.3C219.82 392.77 218.75 390.63 216.8 388.4C214.85 386.17 211.18 383.27 208.4 380.9C205.62 378.53 201.48 375.32 200.1 374.2" stroke="#00ff00" stroke-width="1.1" fill="none" stroke-linejoin="round" stroke-linecap="round" />
<path d="M149.6 362.4L144.9 368.3L148.94 367.47L152.6 369.5Z" fill="#000" stroke="#000" stroke-width="0.4" stroke-linejoin="round"/>
<path d="M156.3 369.3L152.8 375.4L156.34 373.98L159.9 375.2Z" fill="#000" stroke="#000" stroke-width="0.4" stroke-linejoin="round"/>
<path d="M187.7 394.3L194.8 393.3L192.38 396.13L192.6 400Z" fill="#000" stroke="#000" stroke-width="0.4" stroke-linejoin="round"/>
<path d="M220.3 431.4L216.5 438.5L220.18 436.78L223.8 438.1Z" fill="#000" stroke="#000" stroke-width="0.4" stroke-linejoin="round"/>
<text x="187.5" y="358" font-size="9.8" text-anchor="start" fill="#000" stroke="#000" font-weight="normal" >Low T</text>
<text x="87.2" y="406.4" font-size="9.8" text-anchor="start" fill="#000" stroke="#000" font-weight="normal" >High T</text>
<path d="M404.6 363C404.27 361.38 403.1 357.2 402.6 353.3C402.1 349.4 401.72 343.5 401.6 339.6C401.48 335.7 401.5 332.67 401.9 329.9C402.3 327.13 403.08 324.72 404 323C404.92 321.28 406.27 320.28 407.4 319.6C408.53 318.92 409.42 318.75 410.8 318.9C412.18 319.05 413.97 319.47 415.7 320.5C417.43 321.53 419.37 323.3 421.2 325.1C423.03 326.9 424.18 328.2 426.7 331.3C429.22 334.4 432.93 338.6 436.3 343.7C439.67 348.8 444.13 357.18 446.9 361.9C449.67 366.62 450.5 367.87 452.9 372C455.3 376.13 458.78 381.7 461.3 386.7C463.82 391.7 465.58 396.15 468 402C470.42 407.85 473.82 416.1 475.8 421.8C477.78 427.5 479.22 433.8 479.9 436.2" stroke="#ff0000" stroke-width="0.9" fill="none" stroke-linejoin="round" stroke-linecap="round" />
<path d="M479.9 436.2C479.05 433.1 476.87 424.48 474.8 417.6C472.73 410.72 470.08 403.5 467.5 394.9C464.92 386.3 461.22 373.15 459.3 366C457.38 358.85 456.87 356.13 456 352C455.13 347.87 454.42 343 454.1 341.2" stroke="#ff0000" stroke-width="0.8" fill="none" stroke-linejoin="round" stroke-linecap="round" />
<path d="M404.6 363C404.5 362.42 403.77 360.77 404 359.5C404.23 358.23 405.2 356.08 406 355.4C406.8 354.72 407.18 354.6 408.8 355.4C410.42 356.2 413.4 358.02 415.7 360.2C418 362.38 420.17 364.43 422.6 368.5C425.03 372.57 427.28 379.17 430.3 384.6C433.32 390.03 438.08 396.95 440.7 401.1C443.32 405.25 444.28 406.75 446 409.5C447.72 412.25 449.9 416.42 451 417.6C452.1 418.78 452.15 417.97 452.6 416.6C453.05 415.23 453.28 411.63 453.7 409.4C454.12 407.17 454.35 404.93 455.1 403.2C455.85 401.47 457.43 400.72 458.2 399C458.97 397.28 459.35 396.33 459.7 392.9C460.05 389.47 460.37 382.88 460.3 378.4C460.23 373.92 459.82 370.13 459.3 366C458.78 361.87 458.07 357.73 457.2 353.6C456.33 349.47 454.62 343.27 454.1 341.2" stroke="#00ff00" stroke-width="1.25" fill="none" stroke-linejoin="round" stroke-linecap="round" />
<path d="M404.6 363.7C405.3 364.73 406.95 368.07 408.8 369.9C410.65 371.73 413.4 373.67 415.7 374.7C418 375.73 420.08 376.45 422.6 376.1C425.12 375.75 428.05 374.33 430.8 372.6C433.55 370.87 436.57 368.22 439.1 365.7C441.63 363.18 443.93 360.48 446 357.5C448.07 354.52 450.12 350.57 451.5 347.8C452.88 345.03 453.83 342.05 454.3 340.9" stroke="#0000ff" stroke-width="2.4" fill="none" stroke-linejoin="round" stroke-linecap="round" />
<path d="M404.6 363.7 L454.3 340.9" stroke="#ff00ff" stroke-width="2.5" fill="none" stroke-linejoin="round" stroke-linecap="round" />
<path d="M421.5 321.7L417.3 328.4L420.99 326.77L424.4 328Z" fill="#000" stroke="#000" stroke-width="0.4" stroke-linejoin="round"/>
<path d="M422.1 362.1L418.1 355.5L421.91 356.95L425.6 355.5Z" fill="#000" stroke="#000" stroke-width="0.4" stroke-linejoin="round"/>
<path d="M440.3 368L435.3 362.7L439.32 363.28L442.8 361.2Z" fill="#000" stroke="#000" stroke-width="0.4" stroke-linejoin="round"/>
<path d="M436.3 399.3L442.6 396.1L441.21 399.81L442.6 403.8Z" fill="#000" stroke="#000" stroke-width="0.4" stroke-linejoin="round"/>
<text x="457.5" y="337.8" font-size="9.8" text-anchor="start" fill="#000" stroke="#000" font-weight="normal" >Low T</text>
<text x="373.6" y="376.8" font-size="9.8" text-anchor="start" fill="#000" stroke="#000" font-weight="normal" >High T</text>
<rect x="495.3" y="306.8" width="54.8" height="41.8" fill="#fff" stroke="#333" stroke-width="0.9"/>
<path d="M500.9 314.2H519.7" stroke="#ff0000" stroke-width="1.1"/>
<text x="523.8" y="317.8" font-size="10" text-anchor="start" fill="#000" stroke="#000" font-weight="normal" >0 s</text>
<path d="M500.9 323.47H519.7" stroke="#00ff00" stroke-width="1.1"/>
<text x="523.8" y="327.07" font-size="10" text-anchor="start" fill="#000" stroke="#000" font-weight="normal" >5 s</text>
<path d="M500.9 332.74H519.7" stroke="#0000ff" stroke-width="1.1"/>
<text x="523.8" y="336.34" font-size="10" text-anchor="start" fill="#000" stroke="#000" font-weight="normal" >50 s</text>
<path d="M500.9 342.01H519.7" stroke="#ff00ff" stroke-width="1.1"/>
<text x="523.8" y="345.61" font-size="10" text-anchor="start" fill="#000" stroke="#000" font-weight="normal" >500 s</text>
<text x="494.8" y="301.6" font-size="7.3" stroke="#000">T<tspan font-size="5.4" dy="2.6" dx="-0.3">temp</tspan></text>
<text x="-0.3" y="6.9" font-size="9.5" text-anchor="start" fill="#000" stroke="#000" font-weight="bold" >a.</text>
<text x="294.8" y="6.9" font-size="9.5" text-anchor="start" fill="#000" stroke="#000" font-weight="bold" >b.</text>
</svg></body></html>
